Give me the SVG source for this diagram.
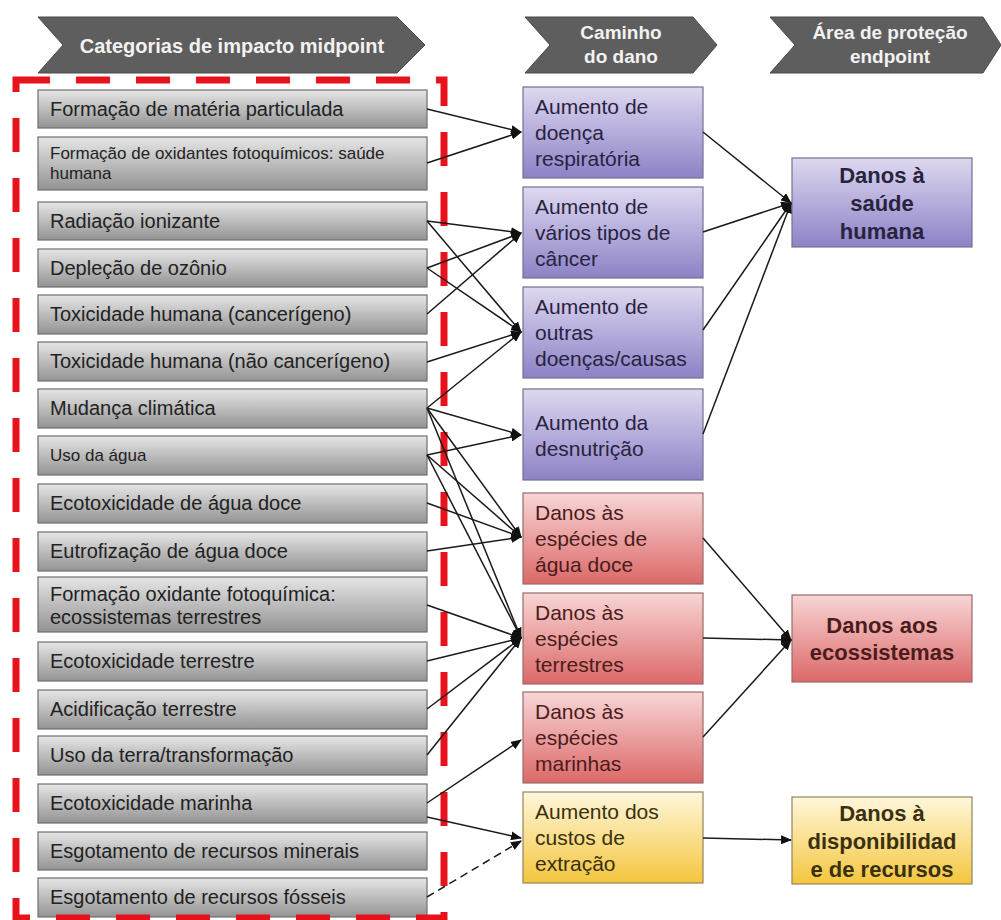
<svg xmlns="http://www.w3.org/2000/svg" width="1001" height="920" viewBox="0 0 1001 920">
<defs>
<linearGradient id="gGrey" x1="0" y1="0" x2="0" y2="1"><stop offset="0" stop-color="#e6e6e6"/><stop offset="1" stop-color="#939393"/></linearGradient>
<linearGradient id="gPurple" x1="0" y1="0" x2="0" y2="1"><stop offset="0" stop-color="#ded8f0"/><stop offset="1" stop-color="#8c82c6"/></linearGradient>
<linearGradient id="gRed" x1="0" y1="0" x2="0" y2="1"><stop offset="0" stop-color="#f8d6d6"/><stop offset="1" stop-color="#dc6868"/></linearGradient>
<linearGradient id="gYellow" x1="0" y1="0" x2="0" y2="1"><stop offset="0" stop-color="#fff7dc"/><stop offset="1" stop-color="#f4c63e"/></linearGradient>
<marker id="arr" markerUnits="userSpaceOnUse" markerWidth="11" markerHeight="9" refX="10" refY="4.5" orient="auto"><path d="M0,0 L11,4.5 L0,9 z" fill="#111"/></marker>
</defs>
<style>
.hdr{fill:#5e5e5e;stroke:#4a4a4a;stroke-width:1}
.ht{font-family:"Liberation Sans",Arial,sans-serif;font-weight:bold;fill:#f2f2f2;text-anchor:middle}
.lb{fill:url(#gGrey);stroke:#6e6e6e;stroke-width:1.2}
.lt{font-family:"Liberation Sans",Arial,sans-serif;font-size:20px;fill:#222}
.ls{font-family:"Liberation Sans",Arial,sans-serif;font-size:17px;fill:#222}
.mp{fill:url(#gPurple);stroke:#76708f;stroke-width:1.2}
.mr{fill:url(#gRed);stroke:#9a6a6a;stroke-width:1.2}
.my{fill:url(#gYellow);stroke:#8f8660;stroke-width:1.2}
.mt{font-family:"Liberation Sans",Arial,sans-serif;font-size:21px}
.tp{fill:#28233f}
.tr{fill:#4a1c1c}
.ty{fill:#3a3010}
.rt{font-family:"Liberation Sans",Arial,sans-serif;font-size:22px;font-weight:bold;text-anchor:middle}
.c{stroke:#1a1a1a;stroke-width:1.5;fill:none;marker-end:url(#arr)}
.red{fill:none;stroke:#e8121c;stroke-width:7;stroke-dasharray:34 26}
</style>
<rect width="1001" height="920" fill="#ffffff"/>

<g id="headers">
<g id="h1"><polygon class="hdr" points="38,17 397,17 425,45 397,73 38,73 63,45"/><text class="ht" x="232" y="53" font-size="20">Categorias de impacto midpoint</text></g>
<g id="h2"><polygon class="hdr" points="525,17 693,17 717,45 693,73 525,73 550,45"/><text class="ht" x="621" y="39" font-size="19">Caminho</text><text class="ht" x="621" y="63" font-size="19">do dano</text></g>
<g id="h3"><polygon class="hdr" points="770,17 983,17 1001,45 983,73 770,73 795,45"/><text class="ht" x="890" y="39" font-size="19">Área de proteção</text><text class="ht" x="890" y="63" font-size="19">endpoint</text></g>
</g>

<g id="left">
<g id="l1"><rect class="lb" x="38" y="90" width="389" height="38"/><text class="lt" x="50" y="116">Formação de matéria particulada</text></g>
<g id="l2"><rect class="lb" x="38" y="137" width="389" height="53"/><text class="ls" x="50" y="159">Formação de oxidantes fotoquímicos: saúde</text><text class="ls" x="50" y="179">humana</text></g>
<g id="l3"><rect class="lb" x="38" y="202" width="389" height="38"/><text class="lt" x="50" y="228">Radiação ionizante</text></g>
<g id="l4"><rect class="lb" x="38" y="249" width="389" height="38"/><text class="lt" x="50" y="275">Depleção de ozônio</text></g>
<g id="l5"><rect class="lb" x="38" y="295" width="389" height="39"/><text class="lt" x="50" y="321">Toxicidade humana (cancerígeno)</text></g>
<g id="l6"><rect class="lb" x="38" y="342" width="389" height="39"/><text class="lt" x="50" y="368">Toxicidade humana (não cancerígeno)</text></g>
<g id="l7"><rect class="lb" x="38" y="389" width="389" height="39"/><text class="lt" x="50" y="415">Mudança climática</text></g>
<g id="l8"><rect class="lb" x="38" y="436" width="389" height="39"/><text class="ls" x="50" y="461">Uso da água</text></g>
<g id="l9"><rect class="lb" x="38" y="484" width="389" height="39"/><text class="lt" x="50" y="510">Ecotoxicidade de água doce</text></g>
<g id="l10"><rect class="lb" x="38" y="532" width="389" height="39"/><text class="lt" x="50" y="558">Eutrofização de água doce</text></g>
<g id="l11"><rect class="lb" x="38" y="577" width="389" height="55"/><text class="lt" x="50" y="601">Formação oxidante fotoquímica:</text><text class="lt" x="50" y="624">ecossistemas terrestres</text></g>
<g id="l12"><rect class="lb" x="38" y="642" width="389" height="39"/><text class="lt" x="50" y="668">Ecotoxicidade terrestre</text></g>
<g id="l13"><rect class="lb" x="38" y="690" width="389" height="39"/><text class="lt" x="50" y="716">Acidificação terrestre</text></g>
<g id="l14"><rect class="lb" x="38" y="736" width="389" height="39"/><text class="lt" x="50" y="762">Uso da terra/transformação</text></g>
<g id="l15"><rect class="lb" x="38" y="784" width="389" height="39"/><text class="lt" x="50" y="810">Ecotoxicidade marinha</text></g>
<g id="l16"><rect class="lb" x="38" y="832" width="389" height="38"/><text class="lt" x="50" y="858">Esgotamento de recursos minerais</text></g>
<g id="l17"><rect class="lb" x="38" y="878" width="389" height="39"/><text class="lt" x="50" y="904">Esgotamento de recursos fósseis</text></g>
</g>

<rect id="frame" class="red" x="16" y="80" width="428" height="838"/>

<g id="middle">
<g id="m1"><rect class="mp" x="523" y="87" width="180" height="91"/><text class="mt tp" x="535" y="114">Aumento de</text><text class="mt tp" x="535" y="140">doença</text><text class="mt tp" x="535" y="166">respiratória</text></g>
<g id="m2"><rect class="mp" x="523" y="187" width="180" height="91"/><text class="mt tp" x="535" y="214">Aumento de</text><text class="mt tp" x="535" y="240">vários tipos de</text><text class="mt tp" x="535" y="266">câncer</text></g>
<g id="m3"><rect class="mp" x="523" y="287" width="180" height="91"/><text class="mt tp" x="535" y="314">Aumento de</text><text class="mt tp" x="535" y="340">outras</text><text class="mt tp" x="535" y="366">doenças/causas</text></g>
<g id="m4"><rect class="mp" x="523" y="389" width="180" height="91"/><text class="mt tp" x="535" y="430">Aumento da</text><text class="mt tp" x="535" y="456">desnutrição</text></g>
<g id="m5"><rect class="mr" x="523" y="493" width="180" height="91"/><text class="mt tr" x="535" y="520">Danos às</text><text class="mt tr" x="535" y="546">espécies de</text><text class="mt tr" x="535" y="572">água doce</text></g>
<g id="m6"><rect class="mr" x="523" y="593" width="180" height="91"/><text class="mt tr" x="535" y="620">Danos às</text><text class="mt tr" x="535" y="646">espécies</text><text class="mt tr" x="535" y="672">terrestres</text></g>
<g id="m7"><rect class="mr" x="523" y="692" width="180" height="91"/><text class="mt tr" x="535" y="719">Danos às</text><text class="mt tr" x="535" y="745">espécies</text><text class="mt tr" x="535" y="771">marinhas</text></g>
<g id="m8"><rect class="my" x="523" y="792" width="180" height="91"/><text class="mt ty" x="535" y="819">Aumento dos</text><text class="mt ty" x="535" y="845">custos de</text><text class="mt ty" x="535" y="871">extração</text></g>
</g>

<g id="right">
<g id="r1"><rect class="mp" x="792" y="158" width="180" height="89"/><text class="rt tp" x="882" y="183">Danos à</text><text class="rt tp" x="882" y="211">saúde</text><text class="rt tp" x="882" y="239">humana</text></g>
<g id="r2"><rect class="mr" x="792" y="595" width="180" height="87"/><text class="rt tr" x="882" y="633">Danos aos</text><text class="rt tr" x="882" y="660">ecossistemas</text></g>
<g id="r3"><rect class="my" x="792" y="797" width="180" height="87"/><text class="rt ty" x="882" y="821">Danos à</text><text class="rt ty" x="882" y="849">disponibilidad</text><text class="rt ty" x="882" y="877">e de recursos</text></g>
</g>

<g id="connectors">
<line class="c" x1="427" y1="109" x2="521" y2="132"/>
<line class="c" x1="427" y1="163" x2="521" y2="132"/>
<line class="c" x1="427" y1="221" x2="521" y2="233"/>
<line class="c" x1="427" y1="221" x2="521" y2="332"/>
<line class="c" x1="427" y1="268" x2="521" y2="233"/>
<line class="c" x1="427" y1="268" x2="521" y2="332"/>
<line class="c" x1="427" y1="314" x2="521" y2="233"/>
<line class="c" x1="427" y1="362" x2="521" y2="332"/>
<line class="c" x1="427" y1="408" x2="521" y2="332"/>
<line class="c" x1="427" y1="408" x2="521" y2="435"/>
<line class="c" x1="427" y1="408" x2="521" y2="537"/>
<line class="c" x1="427" y1="408" x2="521" y2="638"/>
<line class="c" x1="427" y1="455" x2="521" y2="435"/>
<line class="c" x1="427" y1="455" x2="521" y2="537"/>
<line class="c" x1="427" y1="455" x2="521" y2="638"/>
<line class="c" x1="427" y1="503" x2="521" y2="537"/>
<line class="c" x1="427" y1="551" x2="521" y2="537"/>
<line class="c" x1="427" y1="605" x2="521" y2="638"/>
<line class="c" x1="427" y1="661" x2="521" y2="638"/>
<line class="c" x1="427" y1="709" x2="521" y2="638"/>
<line class="c" x1="427" y1="755" x2="521" y2="638"/>
<line class="c" x1="427" y1="803" x2="521" y2="740"/>
<line class="c" x1="427" y1="817" x2="521" y2="838"/>
<line class="c" x1="427" y1="897" x2="521" y2="841" stroke-dasharray="8 5"/>
<line class="c" x1="703" y1="132" x2="791" y2="203"/>
<line class="c" x1="703" y1="232" x2="791" y2="203"/>
<line class="c" x1="703" y1="330" x2="791" y2="203"/>
<line class="c" x1="703" y1="434" x2="791" y2="203"/>
<line class="c" x1="703" y1="538" x2="791" y2="640"/>
<line class="c" x1="703" y1="638" x2="791" y2="640"/>
<line class="c" x1="703" y1="737" x2="791" y2="640"/>
<line class="c" x1="703" y1="838" x2="791" y2="840"/>
</g>
</svg>
